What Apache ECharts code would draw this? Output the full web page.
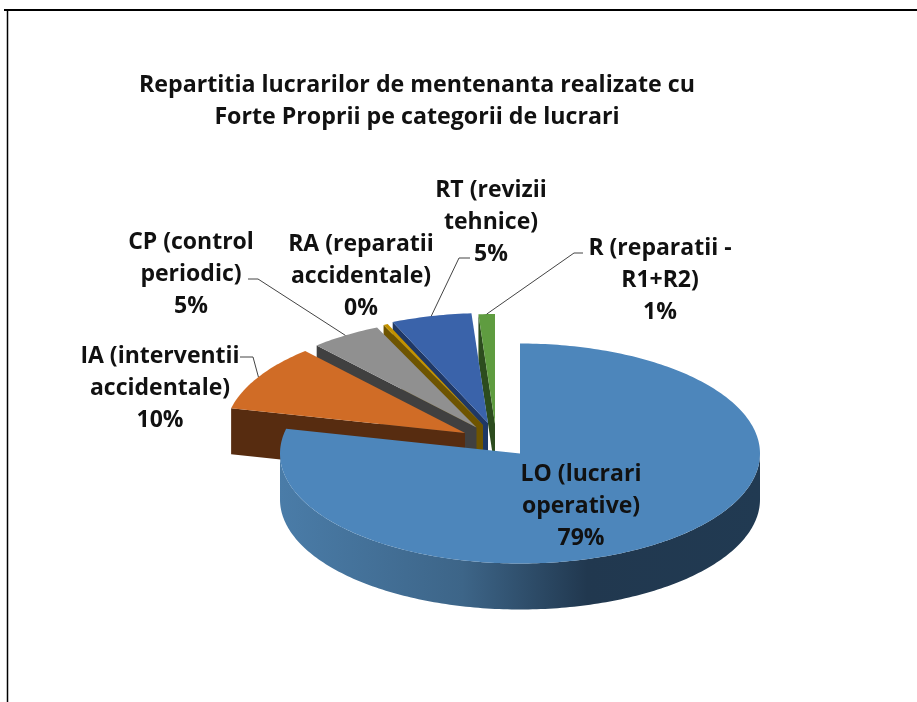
<!DOCTYPE html>
<html><head><meta charset="utf-8">
<style>html,body{margin:0;padding:0;background:#fff}#c{width:917px;height:702px}</style>
<script src="https://cdn.jsdelivr.net/npm/echarts@6/dist/echarts.min.js"></script>
</head><body><div id="c"></div>
<script>
// ---- data, clockwise from 12 o'clock ----
const categories = ['LO (lucrari\noperative)', 'IA (interventii\naccidentale)', 'CP (control\nperiodic)', 'RA (reparatii\naccidentale)', 'RT (revizii\ntehnice)', 'R (reparatii -\nR1+R2)'];
const shares = [78.6, 9.8, 4.8, 0.3, 5.4, 1.1];
const titleText = 'Repartitia lucrarilor de mentenanta realizate cu\nForte Proprii pe categorii de lucrari';

// ---- presentation ----
const topColors  = ['#4d86bb', '#d06c26', '#909090', '#c29200', '#3a63aa', '#5f9c40'];
const wallColors = ['#213a52', '#572c10', '#404040', '#6e5400', '#1f3866', '#2c4c1e'];
const explode = [[0, 0], [-55, -20.5], [-43.5, -26], [-37, -28.5], [-32, -30.5], [-25, -29.5]];
const labelPos = [[581, 506], [160, 388.5], [191, 274], [361, 276], [491, 222], [660, 280.5]];
const leaderStart = [null, [[240, 357], [253, 357]], [[248, 279], [258, 279]], null, [[470, 258], [459, 258]], [[583, 253], [574, 253]]];
const cx = 520, cy = 453.5, rx = 240, ry = 110, depth = 46;
const fontName = '"Open Sans"';

const total = shares.reduce((a, b) => a + b, 0);
const startDeg = [];
shares.reduce((acc, v, i) => { startDeg[i] = acc; return acc + v / total * 360; }, 0);

function pt(i, deg, dy) {
  const t = deg * Math.PI / 180;
  return [cx + explode[i][0] + rx * Math.sin(t), cy + explode[i][1] - ry * Math.cos(t) + (dy || 0)];
}
function arc(i, a, b, dy) {
  const out = [], n = Math.max(2, Math.ceil(Math.abs(b - a)));
  for (let k = 0; k <= n; k++) out.push(pt(i, a + (b - a) * k / n, dy));
  return out;
}
function renderItem(params, api) {
  const i = api.value(0), v = api.value(1);
  const a = startDeg[i], b = a + v / total * 360, mid = (a + b) / 2;
  const apex = [cx + explode[i][0], cy + explode[i][1]];
  const z2 = 10 * (categories.length - i);
  const kids = [];
  const wa = Math.max(a, 90), wb = Math.min(b, 270);
  if (wb > wa) {
    const fill = new echarts.graphic.LinearGradient(0, 0, 1, 0, [
      { offset: 0, color: '#4a7ca8' }, { offset: 0.38, color: '#3d6588' },
      { offset: 0.64, color: '#21384f' }, { offset: 1, color: wallColors[i] }]);
    kids.push({ type: 'polygon', z2, shape: { points: arc(i, wb, wa, 0).concat(arc(i, wa, wb, depth)) }, style: { fill } });
  }
  if (i > 0) {
    const o = pt(i, a);
    kids.push({ type: 'polygon', z2: z2 + 1, shape: { points: [o, apex, [apex[0], apex[1] + depth], [o[0], o[1] + depth]] }, style: { fill: wallColors[i] } });
  }
  kids.push({ type: 'polygon', z2: z2 + 2, shape: { points: [apex].concat(arc(i, a, b, 0)) }, style: { fill: topColors[i] } });
  if (leaderStart[i]) {
    kids.push({ type: 'polyline', z2: 200, shape: { points: leaderStart[i].concat([pt(i, mid)]) }, style: { fill: null, stroke: '#444', lineWidth: 1 } });
  }
  kids.push({ type: 'text', z2: 300, style: {
    x: labelPos[i][0], y: labelPos[i][1],
    text: categories[i] + '\n' + Math.round(v) + '%',
    align: 'center', verticalAlign: 'middle',
    font: 'bold 23px ' + fontName, lineHeight: 32, fill: '#111' } });
  return { type: 'group', children: kids };
}
const chart = echarts.init(document.getElementById('c'), null, { renderer: 'canvas' });
chart.setOption({
  animation: false,
  backgroundColor: '#fff',
  title: { text: titleText, left: 412, top: 64, textAlign: 'center',
    textStyle: { fontFamily: 'Open Sans', fontWeight: 'bold', fontSize: 23.2, lineHeight: 32, color: '#111' } },
  graphic: [
    { type: 'line', shape: { x1: 4, y1: 10, x2: 917, y2: 10 }, style: { stroke: '#000', lineWidth: 2 } },
    { type: 'line', shape: { x1: 7.5, y1: 10, x2: 7.5, y2: 702 }, style: { stroke: '#000', lineWidth: 1.5 } }
  ],
  series: [{
    type: 'custom', coordinateSystem: 'none', silent: true, renderItem,
    data: shares.map((v, i) => [i, v])
  }]
});
</script></body></html>
